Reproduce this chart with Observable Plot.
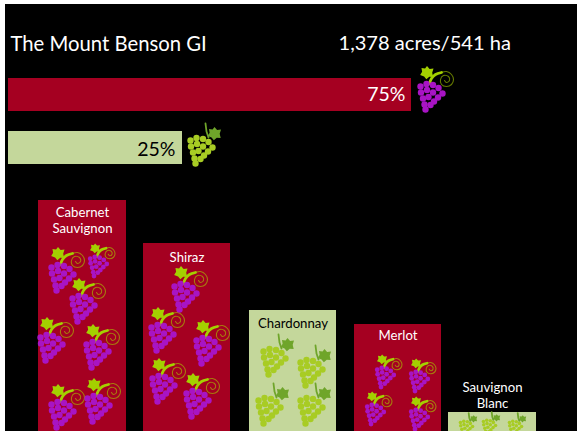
<!DOCTYPE html>
<html><head><meta charset="utf-8">
<script src="https://cdn.jsdelivr.net/npm/d3@7"></script>
<script src="https://cdn.jsdelivr.net/npm/@observablehq/plot@0.6"></script>
<style>html,body{margin:0;padding:0;background:#fff;overflow:hidden}svg{display:block}</style>
</head><body><div id="c"></div>
<script>
const RED="#a50021", PALE="#c4d79b";
// split of the region (bar lengths as drawn, labels as printed)
const shareLabels=["75%","25%"];
const shareLengths=[403,174];
const shareKinds=["red","white"];
// varieties (bar heights above the cropped bottom edge)
const varieties=["Cabernet\nSauvignon","Shiraz","Chardonnay","Merlot","Sauvignon\nBlanc"];
const varietyHeights=[231,188,121,107,19];
const varietyKinds=["red","red","white","red","white"];
const varietyLeft=[38,143,249,354,448];
const varietyWidth=[88,87,87,87,88];
const labelRows=[[212,228],[257],[323],[335],[387,403]];
// grape pictograms: [x, y, scale]
const redGrapes=[[431,95,1],[62,276,1],[98,265,.75],[83,307,1],[51,346,1],[97,353,1],[62,413,1],[98,407,1],
 [185,295,1],[162,336,1],[207,349,1],[163,387,1],[197,402,1],[385,376,.75],[419,380,.75],[375,413,.75],[419,418,.75]];
const whiteGrapes=[[201,149,1],[274,360,1],[311,371,1],[269,409,1],[311,409,1],[466,427,.55],[489,426,.55],[515,427,.55]];
const berries=[[-11,-9],[-5,-11.5],[1.5,-10.5],[7,-7.5],[11,-2],[-10.5,-3],[-4.5,-5.5],[1.5,-3],[6.5,2],[-8.5,3],[-3,1.5],[2.5,6],[-7,9],[-1,9.5],[-6,14]];
const stemRed=[[-2,-12],[0,-17],[4,-21],[10,-23]];
const stemWhite=[[4,-26],[5,-18],[7,-12]];
const spiral=[[10,-23],[15,-24],[20,-21],[22,-16],[20,-11],[15,-9],[10,-11],[9,-16],[12,-20],[17,-19],[18,-15],[15,-13],[13,-15]];
const leafOutline=[[0,-1],[.4,-.55],[1,-.6],[.8,.05],[.95,.7],[.35,.65],[-.1,1.05],[-.45,.6],[-1.05,.4],[-.75,-.1],[-.85,-.7],[-.3,-.6]];
const leaf={draw(ctx,size){const R=Math.sqrt(size/Math.PI);leafOutline.forEach((p,i)=>i?ctx.lineTo(p[0]*R,p[1]*R):ctx.moveTo(p[0]*R,p[1]*R));ctx.closePath();}};

const bg=[{}];
const expand=(list,shape)=>list.flatMap((g,i)=>shape.map(p=>({id:i,x:g[0]+p[0]*g[2],y:g[1]+p[1]*g[2],s:g[2]})));
const berryRows=l=>l.flatMap((g,i)=>berries.map(b=>({x:g[0]+b[0]*g[2],y:g[1]+b[1]*g[2],r:3.2*g[2]})));
const labelData=varieties.flatMap((v,i)=>v.split("\n").map((t,j)=>({t,x:varietyLeft[i]+varietyWidth[i]/2,y:labelRows[i][j],k:varietyKinds[i],i})));

const chart=Plot.plot({
 width:577,height:431,margin:0,
 style:{background:"#fff",fontFamily:"Lato, Carlito, sans-serif"},
 x:{domain:[0,577],range:[0,577],axis:null},
 y:{domain:[0,431],range:[0,431],axis:null},
 r:{type:"identity"},
 marks:[
  Plot.rect(bg,{x1:()=>5,x2:()=>577,y1:()=>4,y2:()=>431,fill:"#000"}),
  Plot.rect(shareLengths,{x1:()=>8,x2:d=>8+d,y1:(d,i)=>[78,131][i],y2:(d,i)=>[111,164][i],fill:(d,i)=>shareKinds[i]=="red"?RED:PALE}),
  Plot.rect(varietyHeights,{x1:(d,i)=>varietyLeft[i],x2:(d,i)=>varietyLeft[i]+varietyWidth[i],y1:d=>431-d,y2:()=>431,fill:(d,i)=>varietyKinds[i]=="red"?RED:PALE}),
  // red grapes
  Plot.line(expand(redGrapes,spiral),{x:"x",y:"y",z:"id",curve:"catmull-rom",stroke:"#a8cc00",strokeOpacity:.6,strokeWidth:1.1}),
  Plot.line(expand(redGrapes,stemRed),{x:"x",y:"y",z:"id",curve:"catmull-rom",stroke:"#a4d000",strokeWidth:2.8}),
  Plot.dot(redGrapes,{x:d=>d[0]-4.5*d[2],y:d=>d[1]-23*d[2],r:d=>6.5*d[2],symbol:leaf,fill:"#a4d000"}),
  Plot.dot(berryRows(redGrapes),{x:"x",y:"y",r:"r",fill:"#a814c4"}),
  // white grapes
  Plot.line(expand(whiteGrapes,stemWhite),{x:"x",y:"y",z:"id",stroke:"#6fa52a",strokeWidth:1.8}),
  Plot.dot(whiteGrapes,{x:d=>d[0]+13*d[2],y:d=>d[1]-16*d[2],r:d=>6.5*d[2],symbol:leaf,fill:"#6fa52a"}),
  Plot.dot(berryRows(whiteGrapes),{x:"x",y:"y",r:"r",fill:"#a8cc24"}),
  // text
  Plot.text(["The Mount Benson GI"],{x:()=>10,y:()=>44,text:d=>d,textAnchor:"start",fontSize:20.3,fill:"#fff"}),
  Plot.text(["1,378 acres/541 ha"],{x:()=>338,y:()=>43,text:d=>d,textAnchor:"start",fontSize:20.1,fill:"#fff"}),
  Plot.text(shareLabels,{x:(d,i)=>[405,175][i],y:(d,i)=>[94,149][i],text:d=>d,textAnchor:"end",fontSize:19.5,fill:(d,i)=>i?"#000":"#fff"}),
  Plot.text(labelData,{x:"x",y:"y",text:"t",fontSize:13.2,fill:d=>d.k=="red"||d.i==4?"#fff":"#000"})
 ]
});
document.getElementById("c").append(chart);
</script></body></html>
